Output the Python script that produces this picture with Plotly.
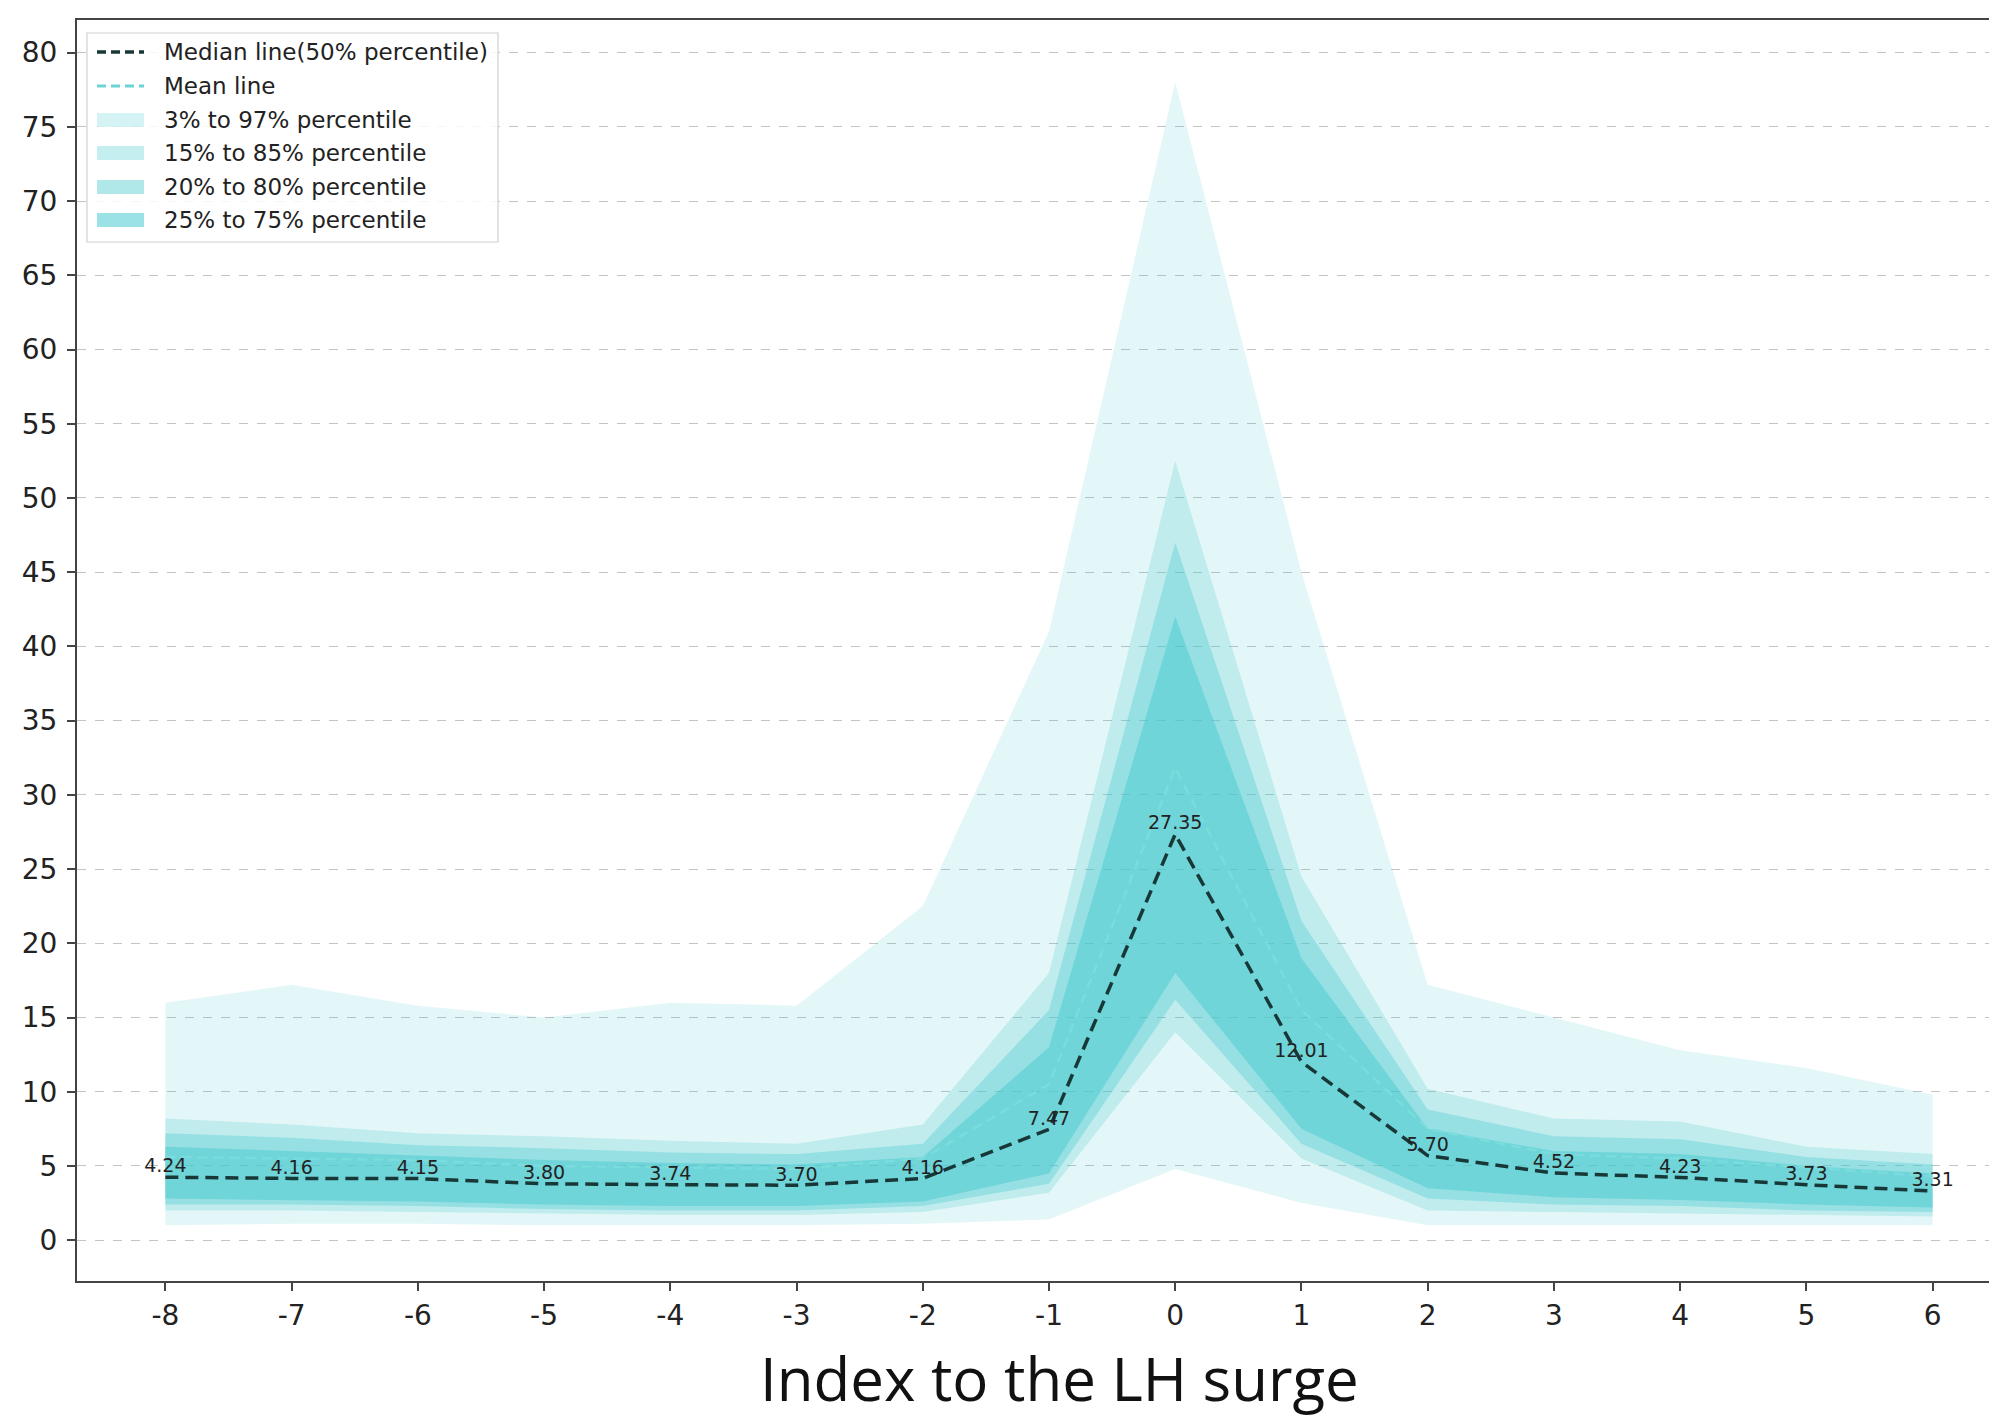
import plotly.graph_objects as go

# ---------------- data ----------------
x_idx = [-8, -7, -6, -5, -4, -3, -2, -1, 0, 1, 2, 3, 4, 5, 6]
median_vals = [4.24, 4.16, 4.15, 3.80, 3.74, 3.70, 4.16, 7.47, 27.35, 12.01, 5.70, 4.52, 4.23, 3.73, 3.31]
mean_vals = [5.6, 5.5, 5.4, 5.0, 4.9, 4.8, 5.5, 10.5, 31.8, 15.5, 7.5, 5.8, 5.5, 4.9, 4.3]

p03 = [1.0, 1.1, 1.1, 1.0, 1.0, 1.0, 1.1, 1.4, 4.8, 2.5, 1.0, 1.0, 1.0, 1.0, 1.0]
p97 = [16.0, 17.2, 15.8, 15.0, 16.0, 15.8, 22.5, 41.0, 78.0, 45.0, 17.2, 15.0, 12.8, 11.6, 9.8]
p15 = [2.0, 2.0, 1.9, 1.8, 1.7, 1.7, 1.9, 3.2, 14.0, 5.5, 2.0, 1.9, 1.8, 1.7, 1.6]
p85 = [8.2, 7.8, 7.2, 7.0, 6.7, 6.5, 7.8, 18.0, 52.5, 24.5, 10.2, 8.2, 8.0, 6.3, 5.8]
p20 = [2.4, 2.4, 2.3, 2.1, 2.0, 2.0, 2.3, 3.8, 16.2, 6.5, 2.8, 2.4, 2.3, 2.0, 1.9]
p80 = [7.2, 6.9, 6.4, 6.2, 5.9, 5.8, 6.5, 15.5, 47.0, 21.5, 8.8, 7.0, 6.8, 5.6, 5.1]
p25 = [2.8, 2.7, 2.6, 2.4, 2.3, 2.3, 2.6, 4.5, 18.0, 7.5, 3.5, 2.9, 2.7, 2.4, 2.2]
p75 = [6.3, 6.0, 5.7, 5.4, 5.2, 5.1, 5.6, 13.0, 42.0, 19.0, 7.5, 6.0, 5.8, 5.0, 4.5]

band_names = ["3% to 97% percentile", "15% to 85% percentile",
              "20% to 80% percentile", "25% to 75% percentile"]
band_lows = [p03, p15, p20, p25]
band_highs = [p97, p85, p80, p75]
band_alphas = [0.14, 0.22, 0.33, 0.45]
median_name = "Median line(50% percentile)"
mean_name = "Mean line"
y_ticks = list(range(0, 81, 5))
x_title = "Index to the LH surge"

BASE = "64,200,205"
MEDIAN_COLOR = "#183838"
MEAN_COLOR = "#7adcdc"

# ---------------- geometry (page pixels) ----------------
# browser body margin of 8px: figure starts at (8, 8)
FIG_W, FIG_H = 1989, 1416
PLOT_L, PLOT_R, PLOT_T, PLOT_B = 77, 1997, 20, 1281   # page pixels
PW, PH = PLOT_R - PLOT_L, PLOT_B - PLOT_T


def px(xp):
    return (xp - PLOT_L) / PW


def py(yp):
    return 1 - (yp - PLOT_T) / PH


# ---------------- figure ----------------
fig = go.Figure()
for name, lo, hi, a in zip(band_names, band_lows, band_highs, band_alphas):
    fig.add_trace(go.Scatter(x=x_idx, y=lo, mode="lines", line=dict(width=0),
                             showlegend=False, hoverinfo="skip"))
    fig.add_trace(go.Scatter(x=x_idx, y=hi, mode="lines", line=dict(width=0),
                             fill="tonexty", fillcolor=f"rgba({BASE},{a})",
                             name=name, showlegend=False))

fig.add_trace(go.Scatter(x=x_idx, y=mean_vals, mode="lines", name=mean_name,
                         line=dict(color=MEAN_COLOR, width=2.5, dash="10px,6px"),
                         showlegend=False))
fig.add_trace(go.Scatter(x=x_idx, y=median_vals, mode="lines", name=median_name,
                         line=dict(color=MEDIAN_COLOR, width=3.5, dash="13px,7px"),
                         showlegend=False))
fig.add_trace(go.Scatter(x=x_idx, y=median_vals, mode="text",
                         text=[f"{v:.2f}" for v in median_vals],
                         textposition="top center",
                         textfont=dict(family="DejaVu Sans", size=19, color="#222"),
                         showlegend=False, hoverinfo="skip"))

# ---------------- manual legend ----------------
shapes = []
annos = []
shapes.append(dict(type="rect", xref="paper", yref="paper",
                   x0=px(87), x1=px(498), y0=py(242), y1=py(33),
                   line=dict(color="#d0d0d0", width=1.2),
                   fillcolor="rgba(255,255,255,0.85)", layer="above"))
rows_y = [52, 86, 120, 153, 187, 220]
sx0, sx1, tx = 97, 144, 162
shapes.append(dict(type="line", xref="paper", yref="paper",
                   x0=px(sx0), x1=px(sx1), y0=py(rows_y[0]), y1=py(rows_y[0]),
                   line=dict(color=MEDIAN_COLOR, width=3.5, dash="9px,5px"), layer="above"))
shapes.append(dict(type="line", xref="paper", yref="paper",
                   x0=px(sx0), x1=px(sx1), y0=py(rows_y[1]), y1=py(rows_y[1]),
                   line=dict(color="#6cd4d4", width=3, dash="9px,5px"), layer="above"))
for ry, a in zip(rows_y[2:], band_alphas):
    shapes.append(dict(type="rect", xref="paper", yref="paper",
                       x0=px(sx0), x1=px(sx1), y0=py(ry + 7), y1=py(ry - 7),
                       line=dict(width=0), fillcolor=f"rgba({BASE},{a + 0.08})",
                       layer="above"))
for ry, label in zip(rows_y, [median_name, mean_name] + band_names):
    annos.append(dict(text=label, xref="paper", yref="paper", x=px(tx), y=py(ry),
                      xanchor="left", yanchor="middle", showarrow=False,
                      font=dict(family="DejaVu Sans", size=23, color="#222")))

annos.append(dict(text=x_title, xref="paper", yref="paper", x=px(1059), y=py(1378),
                  xanchor="center", yanchor="middle", showarrow=False,
                  font=dict(family="Open Sans", size=60, color="#111")))

fig.update_layout(
    width=FIG_W, height=FIG_H,
    margin=dict(l=PLOT_L - 8, r=0, t=PLOT_T - 8, b=FIG_H + 8 - PLOT_B),
    plot_bgcolor="white", paper_bgcolor="white",
    font=dict(family="DejaVu Sans", color="#222"),
    showlegend=False,
    shapes=shapes, annotations=annos,
)
fig.update_xaxes(range=[-8.7, 6.51], tickmode="array", tickvals=x_idx,
                 ticktext=[str(v) for v in x_idx],
                 showgrid=False, zeroline=False,
                 showline=True, linecolor="#444", linewidth=2, mirror=True,
                 ticks="outside", ticklen=8, tickwidth=1.5, tickcolor="#444",
                 tickfont=dict(family="DejaVu Sans", size=28, color="#222"))
fig.update_yaxes(range=[-2.75, 82.2], tickmode="array", tickvals=y_ticks,
                 ticktext=[str(v) for v in y_ticks],
                 showgrid=True, gridcolor="#c4c4c4", gridwidth=1, griddash="dash",
                 zeroline=False,
                 showline=True, linecolor="#444", linewidth=2,
                 ticks="outside", ticklen=8, tickwidth=1.5, tickcolor="#444",
                 ticklabelstandoff=4,
                 tickfont=dict(family="DejaVu Sans", size=28, color="#222"))

fig.write_html("out.html")
